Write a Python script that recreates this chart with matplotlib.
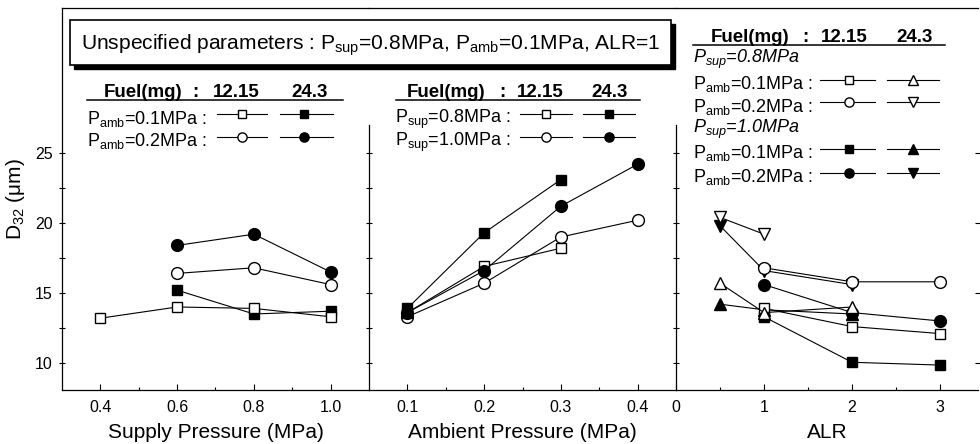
import matplotlib
matplotlib.use("Agg")
import matplotlib.pyplot as plt
from matplotlib.lines import Line2D
from matplotlib.patches import Rectangle
from matplotlib.ticker import FixedLocator

plt.rcParams["font.family"] = ["Liberation Sans", "DejaVu Sans"]
plt.rcParams["mathtext.fontset"] = "custom"
plt.rcParams["mathtext.rm"] = "Liberation Sans"
plt.rcParams["mathtext.it"] = "Liberation Sans:italic"
plt.rcParams["mathtext.bf"] = "Liberation Sans:bold"

# -------------------- DATA -------------------- #

fuel_masses = ["12.15", "24.3"]

# panel 1 : D32 vs supply pressure
supply_ticks = [0.4, 0.6, 0.8, 1.0]
supply_labels = ["0.4", "0.6", "0.8", "1.0"]
sp_x_12 = [0.4, 0.6, 0.8, 1.0]
sp_amb01_12 = [13.2, 14.0, 13.9, 13.3]
sp_x_24 = [0.6, 0.8, 1.0]
sp_amb01_24 = [15.2, 13.5, 13.7]
sp_x_amb02 = [0.6, 0.8, 1.0]
sp_amb02_12 = [16.4, 16.8, 15.6]
sp_amb02_24 = [18.4, 19.2, 16.5]

# panel 2 : D32 vs ambient pressure
ambient_ticks = [0.1, 0.2, 0.3, 0.4]
ambient_labels = ["0.1", "0.2", "0.3", "0.4"]
ap_x_sup08 = [0.1, 0.2, 0.3]
ap_sup08_12 = [13.6, 16.9, 18.2]
ap_sup08_24 = [13.9, 19.3, 23.1]
ap_x_sup10 = [0.1, 0.2, 0.3, 0.4]
ap_sup10_12 = [13.3, 15.7, 19.0, 20.2]
ap_sup10_24 = [13.6, 16.6, 21.2, 24.2]

# panel 3 : D32 vs ALR
alr_ticks = [0, 1, 2, 3]
alr_labels = ["0", "1", "2", "3"]
alr_x_12 = [1, 2, 3]
alr_x_24a = [0.5, 1, 2]
alr_x_24b = [0.5, 1]
alr_sup08_amb01_12 = [13.9, 12.6, 12.1]
alr_sup08_amb01_24 = [15.7, 13.6, 14.0]
alr_sup08_amb02_12 = [16.8, 15.8, 15.8]
alr_sup08_amb02_24 = [20.4, 19.2]
alr_sup10_amb01_12 = [13.3, 10.05, 9.85]
alr_sup10_amb01_24 = [14.2, 13.8, 13.5]
alr_sup10_amb02_12 = [15.6, 13.6, 13.0]
alr_sup10_amb02_24 = [19.8, 16.6, 15.6]

y_major = [10, 15, 20, 25]
y_minor = [12.5, 17.5, 22.5]

# -------------------- FIGURE / AXES -------------------- #

W, H = 980, 444
fig = plt.figure(figsize=(W / 100, H / 100), dpi=100)

def fx(x):
    return x / W

def fy(y):
    return 1 - y / H

def panel(x0, x1):
    return fig.add_axes([fx(x0), fy(390), fx(x1) - fx(x0), fy(8) - fy(390)])

ax1 = panel(62, 369)
ax2 = panel(369, 676)
ax3 = panel(676, 978)

# marker styles
LW = 0.8
open_sq = dict(marker="s", mfc="white", mec="black", ms=7.5, mew=1)
fill_sq = dict(marker="s", mfc="black", mec="black", ms=7.5, mew=1)
open_ci = dict(marker="o", mfc="white", mec="black", ms=8.5, mew=1)
fill_ci = dict(marker="o", mfc="black", mec="black", ms=8.5, mew=1)
open_up = dict(marker="^", mfc="white", mec="black", ms=8.5, mew=1)
fill_up = dict(marker="^", mfc="black", mec="black", ms=8.5, mew=1)
open_dn = dict(marker="v", mfc="white", mec="black", ms=8.5, mew=1)
fill_dn = dict(marker="v", mfc="black", mec="black", ms=8.5, mew=1)

# -------------------- PANEL 1 -------------------- #
ax1.plot(sp_x_amb02, sp_amb02_24, color="black", lw=LW, **fill_ci)
ax1.plot(sp_x_amb02, sp_amb02_12, color="black", lw=LW, **open_ci)
ax1.plot(sp_x_24, sp_amb01_24, color="black", lw=LW, **fill_sq)
ax1.plot(sp_x_12, sp_amb01_12, color="black", lw=LW, **open_sq)

# -------------------- PANEL 2 -------------------- #
ax2.plot(ap_x_sup10, ap_sup10_12, color="black", lw=LW, **open_ci)
ax2.plot(ap_x_sup08, ap_sup08_12, color="black", lw=LW, **open_sq)
ax2.plot(ap_x_sup10, ap_sup10_24, color="black", lw=LW, **fill_ci)
ax2.plot(ap_x_sup08, ap_sup08_24, color="black", lw=LW, **fill_sq)

# -------------------- PANEL 3 -------------------- #
ax3.plot(alr_x_24a, alr_sup10_amb02_24, color="black", lw=LW, **fill_dn)
ax3.plot(alr_x_12, alr_sup08_amb02_12, color="black", lw=LW, **open_ci)
ax3.plot(alr_x_24b, alr_sup08_amb02_24, color="black", lw=LW, **open_dn)
ax3.plot(alr_x_24a, alr_sup10_amb01_24, color="black", lw=LW, **fill_up)
ax3.plot(alr_x_12, alr_sup10_amb02_12, color="black", lw=LW, **fill_ci)
ax3.plot(alr_x_12, alr_sup10_amb01_12, color="black", lw=LW, **fill_sq)
ax3.plot(alr_x_12, alr_sup08_amb01_12, color="black", lw=LW, **open_sq)
ax3.plot(alr_x_24a, alr_sup08_amb01_24, color="black", lw=LW, **open_up)

# -------------------- AXES STYLE -------------------- #
ax1.set_xlim(0.3, 1.1)
ax2.set_xlim(0.05, 0.45)
ax3.set_xlim(0, 3.43)

for ax, ticks, labels, minor in [(ax1, supply_ticks, supply_labels, [0.5, 0.7, 0.9]),
                                 (ax2, ambient_ticks, ambient_labels, [0.15, 0.25, 0.35]),
                                 (ax3, alr_ticks, alr_labels, [0.5, 1.5, 2.5])]:
    ax.set_ylim(8.07, 35.36)
    ax.patch.set_alpha(0)
    ax.spines["right"].set_visible(False)
    for s in ax.spines.values():
        s.set_linewidth(0.9)
    ax.xaxis.set_major_locator(FixedLocator(ticks))
    ax.set_xticklabels(labels)
    ax.xaxis.set_minor_locator(FixedLocator(minor))
    ax.yaxis.set_major_locator(FixedLocator(y_major))
    ax.yaxis.set_minor_locator(FixedLocator(y_minor))
    ax.tick_params(axis="x", which="major", direction="in", length=4, width=0.8, pad=7, labelsize=11.5)
    ax.tick_params(axis="x", which="minor", direction="in", length=2.5, width=0.8)
    ax.tick_params(axis="y", which="major", direction="inout", length=5, width=0.8, pad=4, labelsize=11.5)
    ax.tick_params(axis="y", which="minor", direction="inout", length=4, width=0.8)

for ax in (ax2, ax3):
    ax.spines["left"].set_bounds(8.07, 27)
    ax.tick_params(axis="y", labelleft=False)
ax3.tick_params(axis="y", which="major", right=True)

ax1.set_xlabel("Supply Pressure (MPa)", fontsize=15)
ax2.set_xlabel("Ambient Pressure (MPa)", fontsize=15)
ax3.set_xlabel("ALR", fontsize=15)
for ax in (ax1, ax2, ax3):
    ax.xaxis.set_label_coords(0.5, -33 / 382)
ax1.set_ylabel(r"$\mathrm{D_{32}}$ (μm)", fontsize=15, labelpad=6)

# -------------------- ANNOTATION BOX -------------------- #
fig.add_artist(Rectangle((fx(74), fy(69)), fx(675) - fx(74), fy(24) - fy(69),
                         transform=fig.transFigure, facecolor="black", edgecolor="black", zorder=5))
fig.add_artist(Rectangle((fx(70), fy(65)), fx(671) - fx(70), fy(20) - fy(65),
                         transform=fig.transFigure, facecolor="white", edgecolor="black", lw=1.2, zorder=6))
fig.text(fx(81), fy(50), r"Unspecified parameters : $\mathrm{P_{sup}}$=0.8MPa, $\mathrm{P_{amb}}$=0.1MPa, ALR=1",
         fontsize=15.1, va="baseline", ha="left", zorder=7)

# -------------------- LEGENDS (drawn by hand) -------------------- #
def header(x_fuel, x_colon, x_a, x_b, y_base, u0, u1, y_u):
    kw = dict(fontsize=13.5, fontweight="bold", va="baseline", ha="center")
    fig.text(fx(x_fuel), fy(y_base), "Fuel(mg)", **kw)
    fig.text(fx(x_colon), fy(y_base), ":", **kw)
    fig.text(fx(x_a), fy(y_base), fuel_masses[0], **kw)
    fig.text(fx(x_b), fy(y_base), fuel_masses[1], **kw)
    fig.add_artist(Line2D([fx(u0), fx(u1)], [fy(y_u)] * 2, color="black", lw=1.1))

def row(x, y_base, text, italic=False):
    fig.text(fx(x), fy(y_base), text, fontsize=13, va="baseline", ha="left",
             style="italic" if italic else "normal")

def sample(x0, xm, x1, y, style):
    st = dict(style)
    st["ms"] = st["ms"] * 0.78
    fig.add_artist(Line2D([fx(x0), fx(xm), fx(x1)], [fy(y)] * 3, color="black", lw=LW,
                          markevery=[1], **st))

# panel 1 legend
header(143, 195, 236, 310, 97, 87, 343, 100)
row(87, 124, r"$\mathrm{P_{amb}}$=0.1MPa :")
row(87, 146, r"$\mathrm{P_{amb}}$=0.2MPa :")
sample(217, 242, 267, 114, open_sq)
sample(280, 304, 333, 114, fill_sq)
sample(217, 242, 267, 137, open_ci)
sample(280, 304, 333, 137, fill_ci)

# panel 2 legend
header(446, 502, 540, 610, 97, 396, 640, 100)
row(395, 123, r"$\mathrm{P_{sup}}$=0.8MPa :")
row(395, 146, r"$\mathrm{P_{sup}}$=1.0MPa :")
sample(520, 546, 572, 114, open_sq)
sample(583, 609, 635, 114, fill_sq)
sample(520, 546, 572, 137, open_ci)
sample(583, 609, 635, 137, fill_ci)

# panel 3 legend
header(750, 805, 844, 915, 42, 693, 945, 45)
row(693, 63, r"$\mathit{P_{sup}}$=0.8MPa", italic=True)
row(693, 89, r"$\mathrm{P_{amb}}$=0.1MPa :")
row(693, 112, r"$\mathrm{P_{amb}}$=0.2MPa :")
row(693, 133, r"$\mathit{P_{sup}}$=1.0MPa", italic=True)
row(693, 158, r"$\mathrm{P_{amb}}$=0.1MPa :")
row(693, 182, r"$\mathrm{P_{amb}}$=0.2MPa :")
sample(820, 849, 875, 80, open_sq)
sample(887, 913, 939, 80, open_up)
sample(820, 849, 875, 102, open_ci)
sample(887, 913, 939, 102, open_dn)
sample(820, 849, 875, 149, fill_sq)
sample(887, 913, 939, 149, fill_up)
sample(820, 849, 875, 173, fill_ci)
sample(887, 913, 939, 173, fill_dn)

fig.savefig("out.png", dpi=100)
